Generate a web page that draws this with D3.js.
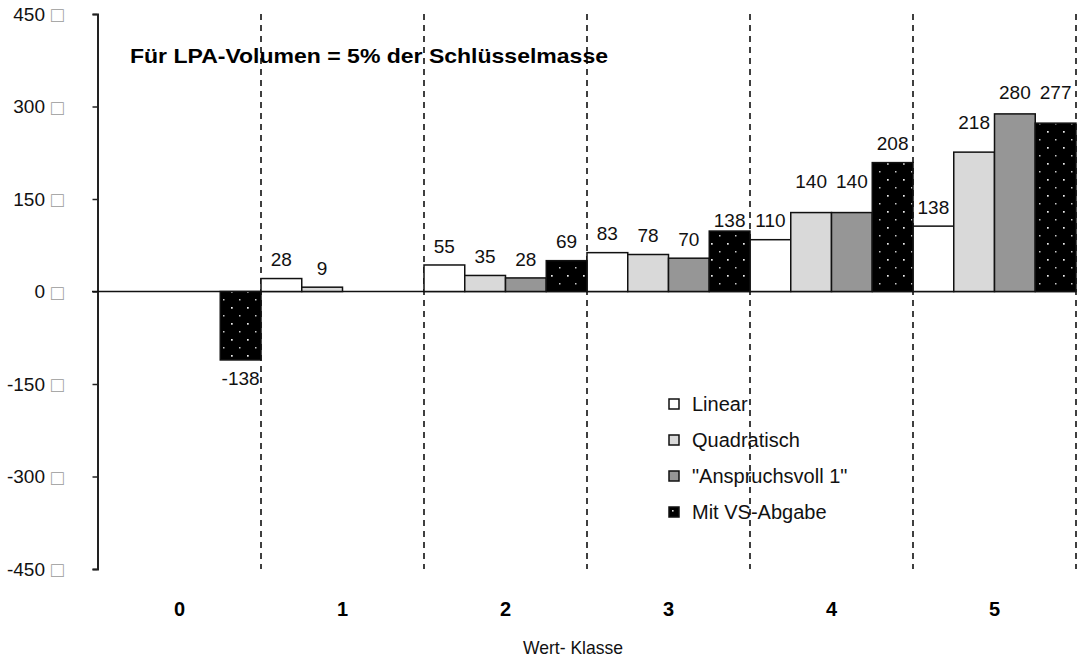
<!DOCTYPE html>
<meta charset="utf-8">
<head>
    <title>LPA-Volumen Wert-Klasse</title>
    <style>
        body { margin: 0; background: #fff; }
        svg text { font-family: "Liberation Sans", Arial, sans-serif; }
    </style>
</head>
<body>
    <script src="https://cdn.jsdelivr.net/npm/d3@7"></script>
    <script>
        // data
        var classes = ["0", "1", "2", "3", "4", "5"];
        var seriesNames = ["Linear", "Quadratisch", "\"Anspruchsvoll 1\"", "Mit VS-Abgabe"];
        var linear = [null, 21, 43, 63, 84, 106];
        var quadratisch = [null, 7, 26, 60, 128, 226];
        var anspruchsvoll = [null, null, 22, 54, 128, 288];
        var mitVS = [-111, null, 50, 98, 209, 273];
        // printed labels (they do not always match the bar heights)
        var linearLabels = ["", "28", "55", "83", "110", "138"];
        var quadLabels = ["", "9", "35", "78", "140", "218"];
        var anspLabels = ["", "", "28", "70", "140", "280"];
        var mitVSLabels = ["-138", "", "69", "138", "208", "277"];
        var yTicks = [-450, -300, -150, 0, 150, 300, 450];

        var width = 1078, height = 658;
        var svg = d3.select("body").append("svg")
            .attr("width", width)
            .attr("height", height);

        var fills = ["#ffffff", "#d9d9d9", "#969696", "url(#dots)"];

        // dotted pattern for the black bars
        var pat = svg.append("defs").append("pattern")
            .attr("id", "dots")
            .attr("patternUnits", "userSpaceOnUse")
            .attr("width", 16).attr("height", 16)
            .attr("x", 3).attr("y", 0);
        pat.append("rect").attr("width", 16).attr("height", 16).attr("fill", "#000");
        pat.append("rect").attr("x", 4).attr("y", 3).attr("width", 1.7).attr("height", 1.7).attr("fill", "#eeeeee");
        pat.append("rect").attr("x", 12).attr("y", 11).attr("width", 1.5).attr("height", 1.5).attr("fill", "#c8c8c8");

        var x = d3.scaleBand().domain(classes).range([98, 1076]).padding(0);
        var xs = d3.scaleBand().domain(d3.range(4)).range([0, x.bandwidth()]).padding(0);
        var y = d3.scaleLinear().domain([-450, 450]).range([569, 14]);

        var series = [linear, quadratisch, anspruchsvoll, mitVS];
        var labels = [linearLabels, quadLabels, anspLabels, mitVSLabels];
        var rows = [];
        series.forEach(function (vals, s) {
            vals.forEach(function (v, i) {
                rows.push({ s: s, c: classes[i], v: v, label: labels[s][i] });
            });
        });

        // small label nudges where the original placed them off the usual gap
        var nudge = { "3-3": 8, "4-1": -12, "4-2": -12, "5-1": -11, "5-2": -3, "5-3": -12 };

        // dashed class separators
        svg.append("g").selectAll("line")
            .data(classes)
            .enter().append("line")
            .attr("x1", function (d) { return x(d) + x.bandwidth(); })
            .attr("x2", function (d) { return x(d) + x.bandwidth(); })
            .attr("y1", y(450))
            .attr("y2", y(-450))
            .attr("stroke", "#000")
            .attr("stroke-width", 1.5)
            .attr("stroke-dasharray", "6,5");

        // y axis
        var yAxis = svg.append("g")
            .attr("transform", "translate(97.5,0)")
            .call(d3.axisLeft(y).tickValues(yTicks).tickSize(5).tickFormat(""));
        yAxis.select(".domain").attr("stroke", "#222").attr("stroke-width", 2);
        yAxis.selectAll(".tick line").attr("stroke", "#222").attr("stroke-width", 1.5);

        var tickLabels = svg.append("g").selectAll("g")
            .data(yTicks)
            .enter().append("g")
            .attr("transform", function (d) { return "translate(0," + y(d) + ")"; });
        tickLabels.append("text")
            .attr("x", 45)
            .attr("dy", "0.35em")
            .attr("text-anchor", "end")
            .style("font-size", "19px")
            .attr("fill", "#111")
            .text(function (d) { return d; });
        tickLabels.append("text")
            .attr("x", 51)
            .attr("dy", "0.4em")
            .style("font-size", "21px")
            .attr("fill", "#9a9a9a")
            .text("\u25A1");

        // zero line
        svg.append("line")
            .attr("x1", 92).attr("x2", 1076)
            .attr("y1", y(0)).attr("y2", y(0))
            .attr("stroke", "#111")
            .attr("stroke-width", 1.5);

        // bars
        svg.append("g").selectAll("rect")
            .data(rows.filter(function (d) { return d.v !== null; }))
            .enter().append("rect")
            .attr("x", function (d) { return x(d.c) + xs(d.s); })
            .attr("width", xs.bandwidth())
            .attr("y", function (d) { return y(Math.max(0, d.v)); })
            .attr("height", function (d) { return Math.abs(y(d.v) - y(0)); })
            .attr("fill", function (d) { return fills[d.s]; })
            .attr("stroke", "#111")
            .attr("stroke-width", 1.5);

        // value labels
        svg.append("g").selectAll("text")
            .data(rows.filter(function (d) { return d.label !== ""; }))
            .enter().append("text")
            .attr("x", function (d) { return x(d.c) + xs(d.s) + xs.bandwidth() / 2; })
            .attr("y", function (d) {
                var n = nudge[d.c + "-" + d.s] || 0;
                if (d.v < 0) return y(d.v) + 18 + n;
                return y(d.v) - 19 + n;
            })
            .attr("dy", "0.35em")
            .attr("text-anchor", "middle")
            .style("font-size", "19px")
            .attr("fill", "#111")
            .text(function (d) { return d.label; });

        // category labels
        svg.append("g").selectAll("text")
            .data(classes)
            .enter().append("text")
            .attr("x", function (d) { return x(d) + x.bandwidth() / 2; })
            .attr("y", 609)
            .attr("dy", "0.35em")
            .attr("text-anchor", "middle")
            .style("font-size", "20px")
            .style("font-weight", "bold")
            .text(function (d) { return d; });

        // axis title
        svg.append("text")
            .attr("x", 523)
            .attr("y", 654)
            .attr("textLength", 100)
            .attr("lengthAdjust", "spacingAndGlyphs")
            .style("font-size", "19px")
            .attr("fill", "#111")
            .text("Wert- Klasse");

        // title
        svg.append("text")
            .attr("x", 130)
            .attr("y", 56)
            .attr("dy", "0.35em")
            .attr("textLength", 478)
            .attr("lengthAdjust", "spacingAndGlyphs")
            .style("font-size", "21px")
            .style("font-weight", "bold")
            .text("Für LPA-Volumen = 5% der Schlüsselmasse");

        // legend
        var legend = svg.append("g").selectAll("g")
            .data(seriesNames)
            .enter().append("g")
            .attr("transform", function (d, i) { return "translate(669," + (404 + i * 36) + ")"; });
        legend.append("rect")
            .attr("x", 0).attr("y", -5)
            .attr("width", 10).attr("height", 10)
            .attr("fill", function (d, i) { return i === 3 ? "#000" : fills[i]; })
            .attr("stroke", "#111")
            .attr("stroke-width", 1.5);
        legend.filter(function (d, i) { return i === 3; }).append("rect")
            .attr("x", 3).attr("y", -2).attr("width", 1.6).attr("height", 1.6).attr("fill", "#ddd");
        legend.append("text")
            .attr("x", 23)
            .attr("dy", "0.35em")
            .style("font-size", "20px")
            .attr("fill", "#111")
            .text(function (d) { return d; });
    </script>
</body>
</html>
